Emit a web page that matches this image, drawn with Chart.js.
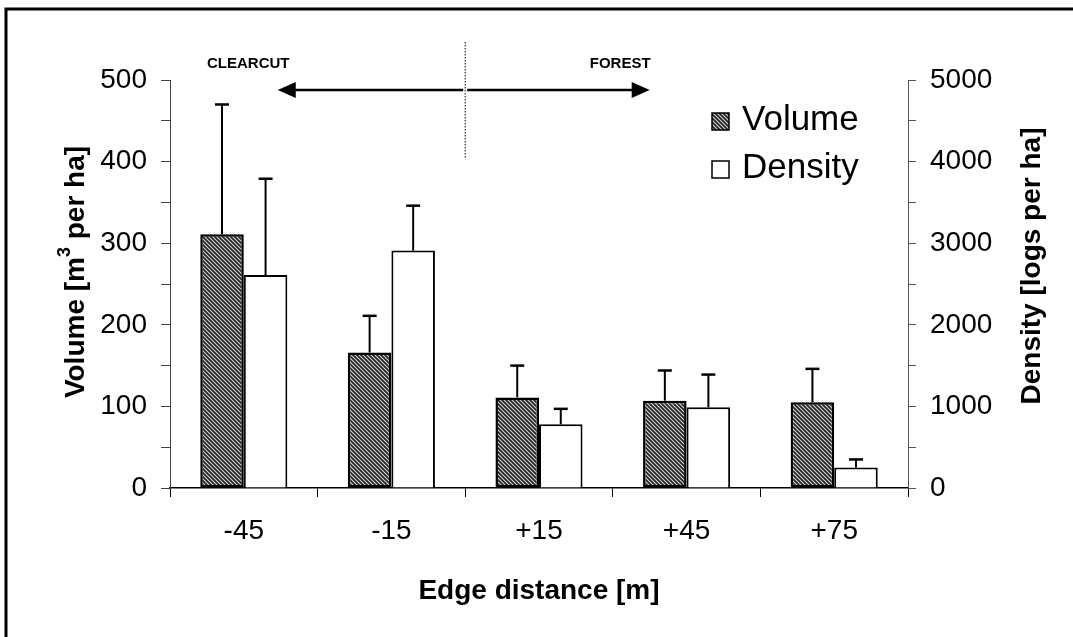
<!DOCTYPE html>
<html>
<head>
<meta charset="utf-8">
<script src="https://cdn.jsdelivr.net/npm/chart.js@4.4.0/dist/chart.umd.min.js"></script>
<style>
  body { margin: 0; background: #fff; }
  #wrap { width: 1073px; height: 637px; }
</style>
</head>
<body>
<div id="wrap"><canvas id="logs-chart" width="1073" height="637"></canvas></div>
<script>
// Edge distance categories
const edgeLabels = ['-45', '-15', '+15', '+45', '+75'];

// Volume of logs (m3 per ha) and its error (upper bar)
const volumeValues = [311, 166, 111, 107, 105];
const volumeErrors = [159, 45, 39, 37, 41];

// Density of logs (logs per ha) and its error
const densityValues = [2610, 2910, 780, 990, 250];
const densityErrors = [1180, 550, 190, 400, 100];

// Fonts
const FONT = '"Liberation Sans", Arial, Helvetica, sans-serif';

// Hatched fill for the volume bars
function makeHatch() {
  var s = 4;
  var c = document.createElement('canvas');
  c.width = s; c.height = s;
  var g = c.getContext('2d');
  g.fillStyle = '#222';
  g.fillRect(0, 0, s, s);
  g.strokeStyle = '#d8d8d8';
  g.lineWidth = 1.1;
  g.beginPath();
  g.moveTo(-1, -1); g.lineTo(s + 1, s + 1);
  g.moveTo(s - 1, -1); g.lineTo(s + 1, 1);
  g.moveTo(-1, s - 1); g.lineTo(1, s + 1);
  g.stroke();
  return g.createPattern(c, 'repeat');
}

var canvas = document.getElementById('logs-chart');
var ctx = canvas.getContext('2d');
var hatch = makeHatch();

// Error bars (upper whisker only) drawn from the data through the scales
const errorBars = {
  id: 'errorBars',
  afterDatasetsDraw(chart) {
    var c = chart.ctx;
    var errs = [volumeErrors, densityErrors];
    c.save();
    c.strokeStyle = '#000';
    chart.data.datasets.forEach(function (ds, i) {
      var meta = chart.getDatasetMeta(i);
      var scale = chart.scales[ds.yAxisID];
      meta.data.forEach(function (bar, j) {
        var top = scale.getPixelForValue(ds.data[j] + errs[i][j]);
        c.lineWidth = 2;
        c.beginPath();
        c.moveTo(bar.x, bar.y);
        c.lineTo(bar.x, top);
        c.stroke();
        c.lineWidth = 2.5;
        c.beginPath();
        c.moveTo(bar.x - 7, top);
        c.lineTo(bar.x + 7, top);
        c.stroke();
      });
    });
    c.restore();
  }
};

// Frame, axis titles, clearcut/forest arrows and the legend
const extras = {
  id: 'extras',
  afterDraw(chart) {
    var c = chart.ctx;
    var x = chart.scales.x;
    var area = chart.chartArea;
    c.save();

    // page frame (top and left edges)
    c.strokeStyle = '#000';
    c.lineWidth = 3;
    c.beginPath();
    c.moveTo(6, 637);
    c.lineTo(6, 9);
    c.lineTo(1073, 9);
    c.stroke();

    // y axis titles, both read bottom to top
    c.fillStyle = '#000';
    c.textBaseline = 'middle';
    c.textAlign = 'left';
    var big = 'bold 28px ' + FONT;
    var small = 'bold 18px ' + FONT;
    var p1 = 'Volume [m', p2 = '3', p3 = ' per ha]';
    c.font = big;
    var w1 = c.measureText(p1).width, w3 = c.measureText(p3).width;
    c.font = small;
    var w2 = c.measureText(p2).width;
    var total = w1 + w2 + w3;
    c.save();
    c.translate(76, 272);
    c.rotate(-Math.PI / 2);
    c.font = big;
    c.fillText(p1, -total / 2, 0);
    c.font = small;
    c.fillText(p2, -total / 2 + w1, -11);
    c.font = big;
    c.fillText(p3, -total / 2 + w1 + w2, 0);
    c.restore();

    c.save();
    c.translate(1032, 266);
    c.rotate(-Math.PI / 2);
    c.font = big;
    c.textAlign = 'center';
    c.fillText('Density [logs per ha]', 0, 0);
    c.restore();

    // dotted divider between clearcut and forest
    var mid = x.getPixelForValue(1.5);
    c.lineWidth = 1;
    c.setLineDash([1.5, 1.5]);
    c.beginPath();
    c.moveTo(mid, 42);
    c.lineTo(mid, 158);
    c.stroke();
    c.setLineDash([]);

    // arrows
    var ay = area.top + 10;
    var leftTip = x.getPixelForValue(0.23);
    var rightTip = x.getPixelForValue(2.75);
    c.lineWidth = 2.5;
    c.beginPath();
    c.moveTo(mid - 2, ay); c.lineTo(leftTip + 10, ay);
    c.moveTo(mid + 2, ay); c.lineTo(rightTip - 10, ay);
    c.stroke();
    c.beginPath();
    c.moveTo(leftTip, ay); c.lineTo(leftTip + 18, ay - 8); c.lineTo(leftTip + 18, ay + 8);
    c.closePath(); c.fill();
    c.beginPath();
    c.moveTo(rightTip, ay); c.lineTo(rightTip - 18, ay - 8); c.lineTo(rightTip - 18, ay + 8);
    c.closePath(); c.fill();

    // region labels
    c.font = 'bold 15px ' + FONT;
    c.textAlign = 'center';
    c.fillText('CLEARCUT', x.getPixelForValue(0.03), 64);
    c.fillText('FOREST', x.getPixelForValue(2.55), 64);

    // legend
    var lx = 712;
    c.lineWidth = 1.5;
    c.fillStyle = hatch;
    c.fillRect(lx, 113, 17, 17);
    c.strokeRect(lx, 113, 17, 17);
    c.fillStyle = '#fff';
    c.fillRect(lx, 161, 17, 17);
    c.strokeRect(lx, 161, 17, 17);
    c.fillStyle = '#000';
    c.font = '35px ' + FONT;
    c.textAlign = 'left';
    c.fillText('Volume', lx + 30, 120);
    c.fillText('Density', lx + 30, 168);

    c.restore();
  }
};

var data = {
  labels: edgeLabels,
  datasets: [{
    label: 'Volume',
    data: volumeValues,
    yAxisID: 'y',
    backgroundColor: hatch,
    borderColor: '#000',
    borderWidth: 2.5,
    borderSkipped: false
  }, {
    label: 'Density',
    data: densityValues,
    yAxisID: 'y1',
    backgroundColor: '#fff',
    borderColor: '#000',
    borderWidth: 2,
    borderSkipped: 'bottom'
  }]
};

var tickFont = { family: FONT, size: 28 };
var titleFont = { family: FONT, size: 28, weight: 'bold' };

var myChart = new Chart(ctx, {
  type: 'bar',
  data: data,
  plugins: [errorBars, extras],
  options: {
    responsive: false,
    animation: false,
    layout: { padding: { top: 80, left: 0, right: 0, bottom: 0 } },
    datasets: { bar: { barPercentage: 1, categoryPercentage: 0.59 } },
    plugins: { legend: { display: false }, tooltip: { enabled: false } },
    scales: {
      x: {
        grid: { offset: true, drawOnChartArea: false, tickLength: 9, color: '#000' },
        border: { color: '#000', width: 1.5 },
        ticks: { color: '#000', font: tickFont, padding: 17 },
        title: { display: true, text: 'Edge distance [m]', color: '#000', font: titleFont, padding: { bottom: 29 } },
        afterFit: function (scale) { scale.height = 149; }
      },
      y: {
        position: 'left',
        min: 0, max: 500,
        ticks: {
          stepSize: 50, color: '#000', font: tickFont, padding: 14,
          callback: function (v) { return v % 100 === 0 ? v : ''; }
        },
        grid: { drawOnChartArea: false, tickLength: 9, color: '#444' },
        border: { color: '#444', width: 1 },
        afterFit: function (scale) { scale.width = 170; }
      },
      y1: {
        position: 'right',
        min: 0, max: 5000,
        ticks: {
          stepSize: 500, color: '#000', font: tickFont, padding: 14,
          callback: function (v) { return v % 1000 === 0 ? v : ''; }
        },
        grid: { drawOnChartArea: false, tickLength: 8, color: '#555' },
        border: { color: '#555', width: 1 },
        afterFit: function (scale) { scale.width = 165; }
      }
    }
  }
});
</script>
</body>
</html>
